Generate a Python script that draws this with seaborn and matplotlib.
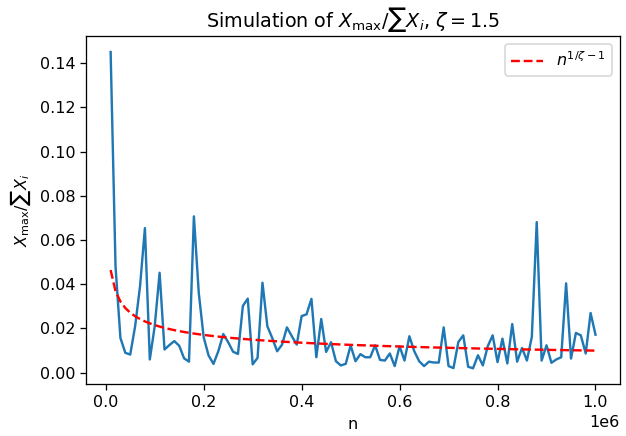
import numpy as np
import pandas as pd
import matplotlib
matplotlib.use("Agg")
import matplotlib.pyplot as plt
import seaborn as sns

zeta = 1.5
n_values = np.arange(10000, 1000001, 10000)
ratio = [
    0.145, 0.048, 0.0157, 0.009, 0.0082, 0.021, 0.039, 0.0654, 0.006, 0.021,
    0.0452, 0.0105, 0.0125, 0.0143, 0.0122, 0.0065, 0.005, 0.0707, 0.036, 0.016,
    0.0078, 0.004, 0.0098, 0.0175, 0.0138, 0.0095, 0.0085, 0.0302, 0.0335, 0.0038,
    0.0067, 0.0407, 0.021, 0.0157, 0.0097, 0.0127, 0.0205, 0.0165, 0.0127, 0.0256,
    0.0264, 0.0334, 0.007, 0.0243, 0.0094, 0.0138, 0.0052, 0.0033, 0.004, 0.0123,
    0.0052, 0.0084, 0.007, 0.007, 0.0124, 0.0058, 0.0055, 0.0087, 0.003, 0.012,
    0.0055, 0.0165, 0.0097, 0.0052, 0.003, 0.005, 0.0046, 0.0046, 0.0205, 0.003,
    0.0021, 0.0139, 0.0169, 0.0027, 0.002, 0.0079, 0.0033, 0.012, 0.0169, 0.0048,
    0.0154, 0.0042, 0.022, 0.005, 0.0112, 0.0055, 0.0162, 0.0681, 0.0055, 0.0124,
    0.0045, 0.006, 0.007, 0.0404, 0.0064, 0.018, 0.0169, 0.0087, 0.027, 0.0172,
]

df = pd.DataFrame({"n": n_values, "ratio": ratio})
df["theory"] = df["n"] ** (1 / zeta - 1)

DPI = 115
fig, ax = plt.subplots(figsize=(626 / DPI, 436 / DPI), dpi=DPI)
sns.lineplot(data=df, x="n", y="ratio", ax=ax, color="#1f77b4", linewidth=1.5)
sns.lineplot(data=df, x="n", y="theory", ax=ax, color="red", linestyle="--",
             linewidth=1.5, label=r"$n^{1/\zeta-1}$")

ax.set_title(r"Simulation of $X_{\max}/\sum X_i$, $\zeta=1.5$")
ax.set_xlabel("n")
ax.set_ylabel(r"$X_{\max}/\sum X_i$")
ax.legend(loc="upper right")

fig.subplots_adjust(left=0.138, right=0.99, top=0.917, bottom=0.119)
fig.savefig("out.png", dpi=DPI)
